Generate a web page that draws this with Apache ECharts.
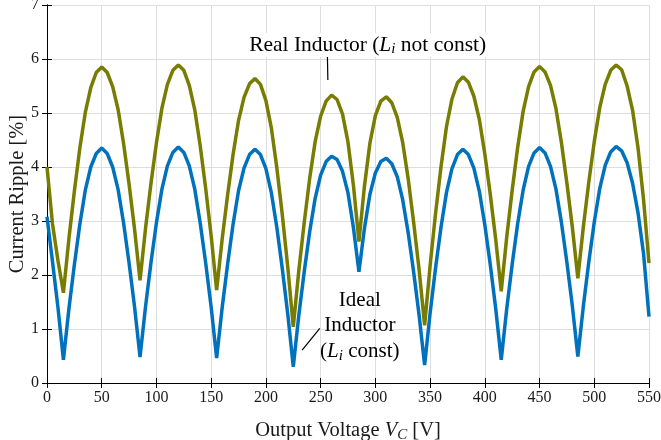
<!DOCTYPE html>
<html>
<head>
<meta charset="utf-8">
<script src="https://cdn.jsdelivr.net/npm/echarts@6/dist/echarts.min.js"></script>
<style>
  html, body { margin: 0; padding: 0; background: #fff; }
  #chart { width: 661px; height: 440px; }
</style>
</head>
<body>
<div id="chart"></div>
<script>
// output voltage V_C [V]
const voltage = [
  0, 5, 10, 15, 20, 25, 30, 35, 40, 45, 50, 55, 60, 65, 70, 75, 80, 85, 90, 95,
  100, 105, 110, 115, 120, 125, 130, 135, 140, 145, 150, 155, 160, 165, 170, 175, 180, 185, 190, 195,
  200, 205, 210, 215, 220, 225, 230, 235, 240, 245, 250, 255, 260, 265, 270, 275, 280, 285, 290, 295,
  300, 305, 310, 315, 320, 325, 330, 335, 340, 345, 350, 355, 360, 365, 370, 375, 380, 385, 390, 395,
  400, 405, 410, 415, 420, 425, 430, 435, 440, 445, 450, 455, 460, 465, 470, 475, 480, 485, 490, 495,
  500, 505, 510, 515, 520, 525, 530, 535, 540, 545, 550
];

// ideal inductor (L_i const), ripple in %
const idealRipple = [
  3.08, 2.25, 1.40, 0.43, 1.37, 2.19, 2.94, 3.57, 4.00, 4.25, 4.35, 4.25, 4.00, 3.58, 2.96, 2.22, 1.41, 0.48, 1.41, 2.23,
  2.97, 3.59, 4.02, 4.27, 4.37, 4.27, 4.02, 3.59, 2.96, 2.22, 1.40, 0.46, 1.39, 2.20, 2.94, 3.56, 3.98, 4.23, 4.33, 4.23,
  3.97, 3.52, 2.88, 2.11, 1.27, 0.30, 1.24, 2.06, 2.80, 3.42, 3.85, 4.10, 4.20, 4.14, 3.92, 3.52, 2.87, 2.06, 2.86, 3.49,
  3.89, 4.10, 4.16, 4.06, 3.82, 3.39, 2.78, 2.05, 1.25, 0.33, 1.29, 2.13, 2.89, 3.53, 3.97, 4.23, 4.33, 4.23, 3.98, 3.55,
  2.93, 2.19, 1.37, 0.43, 1.37, 2.20, 2.95, 3.57, 4.01, 4.26, 4.36, 4.26, 4.01, 3.59, 2.97, 2.23, 1.42, 0.49, 1.42, 2.24,
  2.98, 3.60, 4.03, 4.28, 4.38, 4.30, 4.08, 3.70, 3.15, 2.40, 1.23
];

// real inductor (L_i not const), ripple in %
const realRipple = [
  4.00, 2.95, 2.27, 1.67, 2.67, 3.55, 4.35, 5.01, 5.47, 5.75, 5.85, 5.75, 5.49, 5.06, 4.43, 3.68, 2.85, 1.90, 2.86, 3.70,
  4.45, 5.09, 5.53, 5.79, 5.89, 5.79, 5.51, 5.06, 4.39, 3.60, 2.72, 1.72, 2.66, 3.48, 4.23, 4.86, 5.29, 5.54, 5.64, 5.53,
  5.23, 4.72, 3.98, 3.11, 2.14, 1.04, 2.07, 2.97, 3.79, 4.47, 4.94, 5.22, 5.33, 5.25, 4.98, 4.46, 3.65, 2.62, 3.64, 4.44,
  4.95, 5.22, 5.30, 5.19, 4.92, 4.45, 3.78, 2.97, 2.09, 1.07, 2.17, 3.14, 4.01, 4.75, 5.26, 5.56, 5.67, 5.57, 5.31, 4.88,
  4.24, 3.49, 2.65, 1.70, 2.70, 3.57, 4.36, 5.03, 5.49, 5.76, 5.86, 5.76, 5.51, 5.08, 4.45, 3.70, 2.88, 1.94, 2.89, 3.72,
  4.47, 5.10, 5.53, 5.79, 5.89, 5.80, 5.50, 5.05, 4.35, 3.40, 2.22
];

// annotation anchors, in data units [V, %]
const realLabelAt = [293, 6.26];
const realPointer = [[256.2, 6.04], [256.6, 5.61]];
const idealLabelAt = [285.8, 1.06];
const idealPointer = [[233.1, 0.61], [249.2, 1.01]];

const serif = 'Liberation Serif';
const ink = '#1a1a1a';
const gridColor = '#dedede';
const blue = '#0072bd';
const olive = '#787c00';

// rich styles for labels with italic L_i / V_C
function richStyles(size, lh) {
  return {
    n: { fontFamily: serif, fontSize: size, color: ink, lineHeight: lh },
    i: { fontFamily: serif, fontSize: size, fontStyle: 'italic', color: ink, lineHeight: lh },
    s: { fontFamily: serif, fontSize: Math.round(size * 0.72), fontStyle: 'italic', color: ink, lineHeight: Math.round(lh * 0.5), verticalAlign: 'bottom' }
  };
}

const axisLine = { show: true, lineStyle: { color: '#000', width: 1 } };
const axisTick = { show: true, inside: true, length: 5, lineStyle: { color: '#000', width: 1 } };
const splitLine = { show: true, lineStyle: { color: gridColor, width: 1 } };
const tickLabel = { color: ink, fontFamily: serif, fontSize: 16 };

const chart = echarts.init(document.getElementById('chart'));

chart.setOption({
  animation: false,
  textStyle: { fontFamily: serif },
  grid: { left: 47, right: 12, top: 5, bottom: 57, containLabel: false, outerBoundsMode: 'none' },
  xAxis: [
    {
      type: 'value',
      min: 0,
      max: 550,
      interval: 50,
      axisLine,
      axisTick,
      splitLine,
      axisLabel: { ...tickLabel, margin: 7 },
      name: '{n|Output Voltage }{i|V}{s|C}{n| [V]}',
      nameLocation: 'middle',
      nameGap: 36,
      nameTextStyle: { fontFamily: serif, rich: richStyles(20.5, 24) }
    },
    {
      type: 'value',
      position: 'top',
      min: 0,
      max: 550,
      interval: 50,
      axisLine,
      axisTick,
      splitLine: { show: false },
      axisLabel: { show: false }
    }
  ],
  yAxis: [
    {
      type: 'value',
      min: 0,
      max: 7,
      interval: 1,
      axisLine,
      axisTick,
      splitLine,
      axisLabel: { ...tickLabel, margin: 8 },
      name: 'Current Ripple [%]',
      nameLocation: 'middle',
      nameGap: 19,
      nameMoveOverlap: false,
      nameTextStyle: { fontFamily: serif, fontSize: 20.5, color: ink }
    },
    {
      type: 'value',
      position: 'right',
      min: 0,
      max: 7,
      interval: 1,
      axisLine,
      axisTick,
      splitLine: { show: false },
      axisLabel: { show: false }
    }
  ],
  series: [
    {
      name: 'Ideal Inductor',
      type: 'line',
      data: voltage.map((v, k) => [v, idealRipple[k]]),
      showSymbol: false,
      lineStyle: { color: blue, width: 3.5 },
      z: 3
    },
    {
      name: 'Real Inductor',
      type: 'line',
      data: voltage.map((v, k) => [v, realRipple[k]]),
      showSymbol: false,
      lineStyle: { color: olive, width: 3.5 },
      z: 4,
      markLine: {
        silent: true,
        symbol: 'none',
        label: { show: false },
        lineStyle: { color: '#000', width: 1.2, type: 'solid' },
        data: [
          [{ coord: realPointer[0] }, { coord: realPointer[1] }],
          [{ coord: idealPointer[0] }, { coord: idealPointer[1] }]
        ]
      }
    }
  ]
});

const realPos = chart.convertToPixel({ gridIndex: 0 }, realLabelAt);
const idealPos = chart.convertToPixel({ gridIndex: 0 }, idealLabelAt);

chart.setOption({
  graphic: [
    {
      type: 'text',
      x: realPos[0],
      y: realPos[1],
      z: 10,
      style: {
        text: '{n|Real Inductor (}{i|L}{s|i}{n| not const)}',
        rich: richStyles(21.5, 24),
        align: 'center',
        verticalAlign: 'middle',
        backgroundColor: '#fff'
      }
    },
    {
      type: 'text',
      x: idealPos[0],
      y: idealPos[1],
      z: 10,
      style: {
        text: '{n|Ideal}\n{n|Inductor}\n{n|(}{i|L}{s|i}{n| const)}',
        rich: richStyles(21, 25.5),
        align: 'center',
        verticalAlign: 'middle'
      }
    }
  ]
});
</script>
</body>
</html>
